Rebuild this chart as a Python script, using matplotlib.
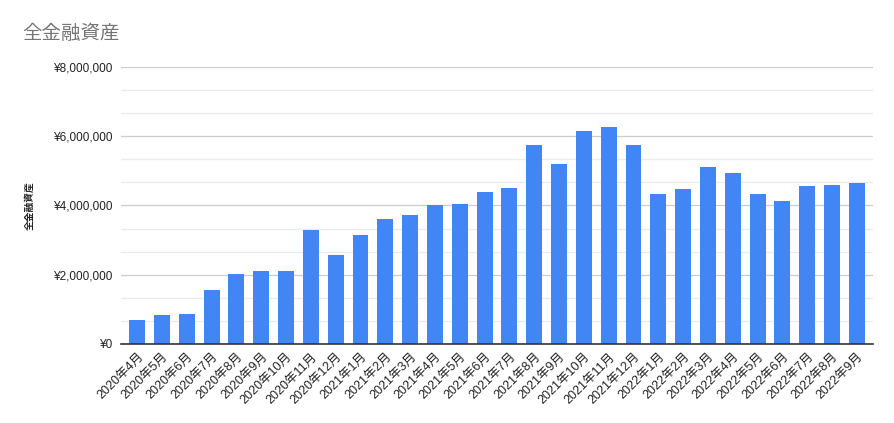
import matplotlib
matplotlib.use("Agg")
import matplotlib.pyplot as plt
from matplotlib.ticker import FuncFormatter, MultipleLocator

months = ["2020年4月", "2020年5月", "2020年6月", "2020年7月", "2020年8月", "2020年9月",
          "2020年10月", "2020年11月", "2020年12月", "2021年1月", "2021年2月", "2021年3月",
          "2021年4月", "2021年5月", "2021年6月", "2021年7月", "2021年8月", "2021年9月",
          "2021年10月", "2021年11月", "2021年12月", "2022年1月", "2022年2月", "2022年3月",
          "2022年4月", "2022年5月", "2022年6月", "2022年7月", "2022年8月", "2022年9月"]
values = [700000, 840000, 870000, 1560000, 2020000, 2100000,
          2100000, 3280000, 2560000, 3160000, 3620000, 3730000,
          4020000, 4050000, 4390000, 4510000, 5740000, 5200000,
          6140000, 6280000, 5740000, 4340000, 4480000, 5110000,
          4940000, 4340000, 4140000, 4570000, 4590000, 4650000]
title = "全金融資産"
ylabel = "全金融資産"

fam = ["Liberation Sans", "Noto Sans CJK JP", "DejaVu Sans"]
plt.rcParams["font.family"] = fam

fig = plt.figure(figsize=(8.95, 4.23), dpi=100)
ax = fig.add_axes([0.1352, 0.1868, 0.9754 - 0.1352, 0.6548])

x = list(range(len(values)))
ax.bar(x, values, width=0.64, color="#4285f4", zorder=3)

ax.set_ylim(0, 8000000)
ax.set_xlim(-0.65, len(values) - 0.35)
ax.yaxis.set_major_locator(MultipleLocator(2000000))
ax.yaxis.set_minor_locator(MultipleLocator(2000000 / 3))
ax.yaxis.set_major_formatter(FuncFormatter(lambda v, p: "¥{:,.0f}".format(v)))
ax.grid(axis="y", which="major", color="#cccccc", linewidth=0.9, zorder=0)
ax.grid(axis="y", which="minor", color="#ebebeb", linewidth=0.9, zorder=0)
ax.tick_params(axis="y", which="both", length=0, labelsize=8.5, labelcolor="#222222", pad=6)
for s in ["top", "right", "left"]:
    ax.spines[s].set_visible(False)
ax.spines["bottom"].set_color("#333333")
ax.spines["bottom"].set_linewidth(1.2)
ax.spines["bottom"].set_zorder(4)

ax.set_xticks(x)
ax.set_xticklabels(months, rotation=45, ha="right", rotation_mode="anchor", fontsize=9, color="#222222")
ax.tick_params(axis="x", length=0, pad=5)

ax.set_ylabel(ylabel, fontsize=7, fontweight="bold", color="#222222", family=["Noto Sans CJK JP"])
ax.yaxis.set_label_coords(-0.115, 0.5)

fig.text(22 / 895, 1 - 33 / 423, title, fontsize=14, color="#757575", va="center", ha="left",
         family=["Noto Sans CJK JP"])

fig.savefig("out.png", dpi=100)
